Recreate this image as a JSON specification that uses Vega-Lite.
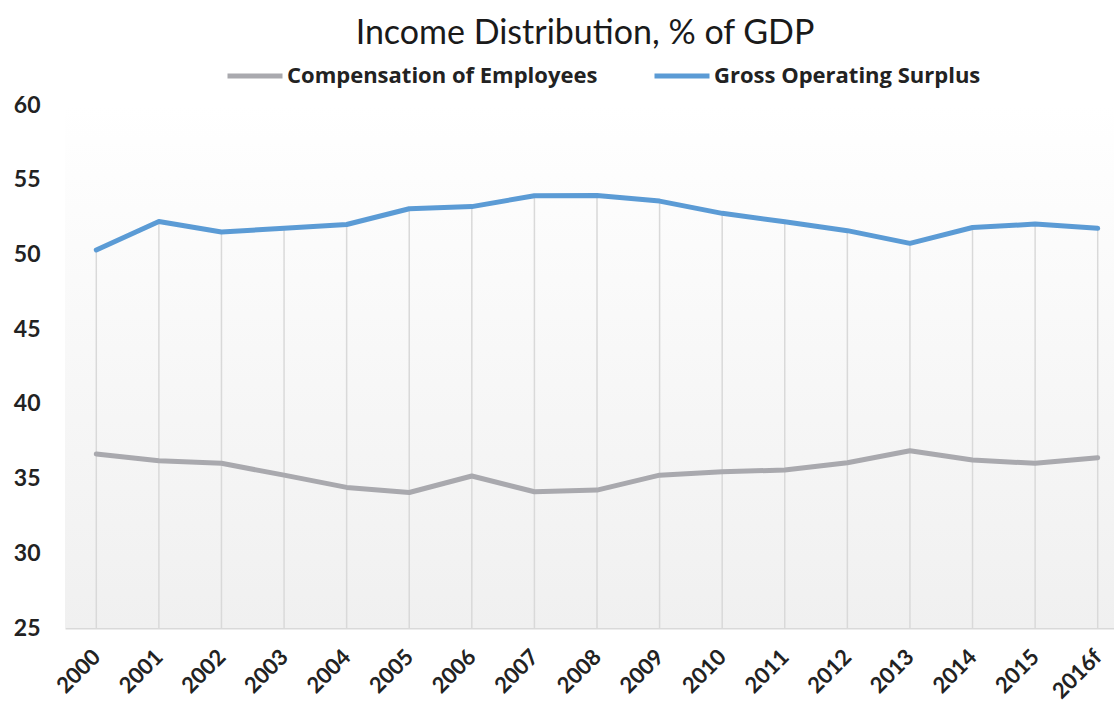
{
  "$schema": "https://vega.github.io/schema/vega-lite/v6.json",
  "autosize": "none",
  "width": 1064,
  "height": 523,
  "padding": {"left": 65, "top": 105, "right": 0, "bottom": 76},
  "background": "white",
  "title": {
    "text": "Income Distribution, % of GDP",
    "font": "Lato",
    "fontSize": 34,
    "fontWeight": "normal",
    "color": "#1a1a1a",
    "anchor": "middle",
    "dx": -12,
    "offset": -5
  },
  "config": {
    "view": {"stroke": null},
    "font": "Lato"
  },
  "data": {
    "values": [
      {"year": "2000", "series": "Gross Operating Surplus", "value": 50.3},
      {"year": "2001", "series": "Gross Operating Surplus", "value": 52.2},
      {"year": "2002", "series": "Gross Operating Surplus", "value": 51.5},
      {"year": "2003", "series": "Gross Operating Surplus", "value": 51.75},
      {"year": "2004", "series": "Gross Operating Surplus", "value": 52.0},
      {"year": "2005", "series": "Gross Operating Surplus", "value": 53.06},
      {"year": "2006", "series": "Gross Operating Surplus", "value": 53.2},
      {"year": "2007", "series": "Gross Operating Surplus", "value": 53.93},
      {"year": "2008", "series": "Gross Operating Surplus", "value": 53.95},
      {"year": "2009", "series": "Gross Operating Surplus", "value": 53.57},
      {"year": "2010", "series": "Gross Operating Surplus", "value": 52.75},
      {"year": "2011", "series": "Gross Operating Surplus", "value": 52.19},
      {"year": "2012", "series": "Gross Operating Surplus", "value": 51.59},
      {"year": "2013", "series": "Gross Operating Surplus", "value": 50.74},
      {"year": "2014", "series": "Gross Operating Surplus", "value": 51.8},
      {"year": "2015", "series": "Gross Operating Surplus", "value": 52.03},
      {"year": "2016f", "series": "Gross Operating Surplus", "value": 51.75},
      {"year": "2000", "series": "Compensation of Employees", "value": 36.64},
      {"year": "2001", "series": "Compensation of Employees", "value": 36.19},
      {"year": "2002", "series": "Compensation of Employees", "value": 36.02},
      {"year": "2003", "series": "Compensation of Employees", "value": 35.23},
      {"year": "2004", "series": "Compensation of Employees", "value": 34.41},
      {"year": "2005", "series": "Compensation of Employees", "value": 34.07},
      {"year": "2006", "series": "Compensation of Employees", "value": 35.17},
      {"year": "2007", "series": "Compensation of Employees", "value": 34.12},
      {"year": "2008", "series": "Compensation of Employees", "value": 34.23},
      {"year": "2009", "series": "Compensation of Employees", "value": 35.23},
      {"year": "2010", "series": "Compensation of Employees", "value": 35.46},
      {"year": "2011", "series": "Compensation of Employees", "value": 35.57},
      {"year": "2012", "series": "Compensation of Employees", "value": 36.06},
      {"year": "2013", "series": "Compensation of Employees", "value": 36.86},
      {"year": "2014", "series": "Compensation of Employees", "value": 36.24},
      {"year": "2015", "series": "Compensation of Employees", "value": 36.02},
      {"year": "2016f", "series": "Compensation of Employees", "value": 36.4}
    ]
  },
  "layer": [
    {
      "mark": {
        "type": "rect",
        "color": {
          "gradient": "linear",
          "x1": 0, "y1": 0, "x2": 0, "y2": 1,
          "stops": [
            {"offset": 0, "color": "#ffffff"},
            {"offset": 1, "color": "#f0f0f0"}
          ]
        }
      },
      "encoding": {
        "y": {"datum": 60, "type": "quantitative", "scale": {"domain": [25, 60]}},
        "y2": {"datum": 25}
      }
    },
    {
      "transform": [{"filter": "datum.series === 'Gross Operating Surplus'"}],
      "mark": {"type": "rule", "color": "#d9d9d9", "strokeWidth": 1.5},
      "encoding": {
        "x": {"field": "year", "type": "nominal"},
        "y": {"field": "value", "type": "quantitative"},
        "y2": {"datum": 25}
      }
    },
    {
      "mark": {"type": "line", "strokeWidth": 5, "strokeCap": "round", "strokeJoin": "round"},
      "encoding": {
        "x": {
          "field": "year",
          "type": "nominal",
          "scale": {"type": "point", "padding": 0.5},
          "axis": {
            "title": null,
            "labelAngle": -45,
            "labelFont": "Lato",
            "labelFontSize": 22,
            "labelFontWeight": "bold",
            "labelColor": "#222222",
            "labelPadding": 25,
            "ticks": false,
            "domainColor": "#d9d9d9",
            "domainWidth": 2,
            "grid": false
          }
        },
        "y": {
          "field": "value",
          "type": "quantitative",
          "scale": {"domain": [25, 60], "nice": false, "zero": false},
          "axis": {
            "title": null,
            "values": [25, 30, 35, 40, 45, 50, 55, 60],
            "labelFont": "Lato",
            "labelFontSize": 23,
            "labelFontWeight": "bold",
            "labelColor": "#222222",
            "labelPadding": 25,
            "ticks": false,
            "domain": false,
            "grid": false
          }
        },
        "color": {
          "field": "series",
          "type": "nominal",
          "scale": {
            "domain": ["Compensation of Employees", "Gross Operating Surplus"],
            "range": ["#a9a9ae", "#5b9bd5"]
          },
          "legend": {
            "title": null,
            "orient": "none",
            "legendX": 160,
            "legendY": -59,
            "direction": "horizontal",
            "columns": 2,
            "symbolType": "stroke",
            "symbolSize": 3025,
            "symbolStrokeWidth": 5,
            "labelFont": "Open Sans",
            "labelFontSize": 22,
            "labelFontWeight": "bold",
            "labelColor": "#222222",
            "labelOffset": 2,
            "labelLimit": 500,
            "columnPadding": 46
          }
        }
      }
    }
  ]
}
